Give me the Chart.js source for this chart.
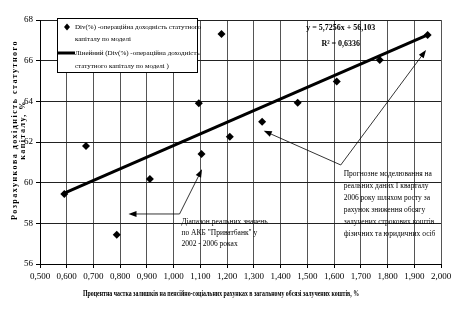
<!DOCTYPE html>
<html>
<head>
<meta charset="utf-8">
<script src="https://cdn.jsdelivr.net/npm/chart.js@4"></script>
<style>
  body { margin: 0; background: #fff; }
</style>
</head>
<body>
<canvas id="chart" width="460" height="325"></canvas>
<script>
/* ================= DATA ================= */

// share of pension/social accounts, %
const shareX = [0.591, 0.672, 0.787, 0.911, 1.094, 1.104, 1.179, 1.21, 1.331, 1.464, 1.61, 1.771, 1.95];
// modelled return on equity, %
const divY = [59.44, 61.80, 57.44, 60.18, 63.90, 61.41, 67.31, 62.26, 63.00, 63.93, 64.97, 66.03, 67.26];

// linear trend (Excel trendline ends)
const trendX = [0.591, 1.95];
const trendY = [59.49, 67.27];

const xTicks = [0.5, 2.0, 0.1];
const yTicks = [56, 68, 2];

const serif = "'Liberation Serif', 'Times New Roman', serif";

function fmt(v) {
    return v.toFixed(3).replace(".", ",");
}

/* ================= ANNOTATIONS ================= */

function arrow(ctx, x1, y1, x2, y2) {
    const a = Math.atan2(y2 - y1, x2 - x1);
    ctx.beginPath();
    ctx.moveTo(x1, y1);
    ctx.lineTo(x2 - 5 * Math.cos(a), y2 - 5 * Math.sin(a));
    ctx.stroke();
    ctx.beginPath();
    ctx.moveTo(x2, y2);
    ctx.lineTo(x2 - 8 * Math.cos(a) + 3 * Math.sin(a), y2 - 8 * Math.sin(a) - 3 * Math.cos(a));
    ctx.lineTo(x2 - 8 * Math.cos(a) - 3 * Math.sin(a), y2 - 8 * Math.sin(a) + 3 * Math.cos(a));
    ctx.closePath();
    ctx.fill();
}

const notes = {
    id: "notes",
    afterDatasetsDraw(chart) {
        const ctx = chart.ctx;
        const xs = chart.scales.x, ys = chart.scales.y;
        const px = v => xs.getPixelForValue(v);
        const py = v => ys.getPixelForValue(v);

        ctx.save();
        ctx.strokeStyle = "#000";
        ctx.fillStyle = "#000";
        ctx.lineWidth = 0.8;

        // range of real values
        arrow(ctx, px(1.022), py(58.46), px(0.831), py(58.46));
        arrow(ctx, px(1.022), py(58.46), px(1.106), py(60.66));

        // forecast
        arrow(ctx, px(1.625), py(60.87), px(1.337), py(62.55));
        arrow(ctx, px(1.625), py(60.87), px(1.944), py(66.52));

        ctx.font = "7.5px " + serif;
        ctx.textAlign = "left";
        ctx.textBaseline = "middle";
        const t1 = ["Діапазон реальних значень", "по АКБ \"Приватбанк\" у", "2002 - 2006 роках"];
        t1.forEach((s, i) => ctx.fillText(s, px(1.029), py(58.08) + i * 11));

        const t2 = ["Прогнозне моделювання на", "реальних даних I кварталу", "2006 року шляхом росту за",
                    "рахунок зниження обсягу", "залучених строкових коштів", "фізичних та юридичних осіб"];
        t2.forEach((s, i) => ctx.fillText(s, px(1.636), py(60.42) + i * 12));

        // trend equation
        ctx.font = "bold 8px " + serif;
        ctx.textAlign = "center";
        ctx.fillText("y = 5,7256x + 56,103", px(1.625), py(67.6));
        ctx.fillText("R² = 0,6336", px(1.625), py(66.8));
        ctx.restore();
    },
    afterDraw(chart) {
        const ctx = chart.ctx;
        ctx.save();

        // legend box
        ctx.fillStyle = "#fff";
        ctx.fillRect(57, 18, 140, 54);
        ctx.strokeStyle = "#000";
        ctx.lineWidth = 1;
        ctx.strokeRect(57.5, 18.5, 140, 54);

        ctx.fillStyle = "#000";
        ctx.beginPath();
        ctx.moveTo(67, 23.5); ctx.lineTo(70, 27); ctx.lineTo(67, 30.5); ctx.lineTo(64, 27);
        ctx.closePath();
        ctx.fill();
        ctx.lineWidth = 3;
        ctx.beginPath();
        ctx.moveTo(58, 53); ctx.lineTo(75, 53);
        ctx.stroke();

        ctx.font = "7px " + serif;
        ctx.textAlign = "left";
        ctx.textBaseline = "middle";
        ctx.fillText("Dіv(%) -операційна доходність статутного", 75, 27);
        ctx.fillText("капіталу по моделі", 75, 39);
        ctx.fillText("Лінейний (Dіv(%) -операційна доходність", 75, 53);
        ctx.fillText("статутного капіталу по моделі )", 75, 66);

        // x axis title, squeezed to the width in the picture
        ctx.font = "bold 8px " + serif;
        ctx.textAlign = "center";
        const xt = "Процентна частка залишків на пенсійно-соціальних рахунках в загальному обсязі залучених коштів, %";
        const xw = ctx.measureText(xt).width;
        ctx.save();
        ctx.translate(221, 294);
        ctx.scale(276 / xw, 1);
        ctx.fillText(xt, 0, 0);
        ctx.restore();

        // y axis title
        ctx.translate(15, 130);
        ctx.rotate(-Math.PI / 2);
        const l1 = "Розрахункова дохідність статутного";
        const w = ctx.measureText(l1).width;
        ctx.letterSpacing = ((180 - w) / l1.length).toFixed(2) + "px";
        ctx.fillText(l1, 0, 0);
        ctx.fillText("капіталу, %", 0, 8);
        ctx.restore();
    }
};

/* ================= CHART ================= */

new Chart(document.getElementById("chart"), {

    type: "scatter",

    data: {
        datasets: [
            {
                type: "line",
                data: trendX.map((x, i) => ({ x: x, y: trendY[i] })),
                borderColor: "#000",
                borderWidth: 3,
                pointRadius: 0,
                order: 2
            },
            {
                data: shareX.map((x, i) => ({ x: x, y: divY[i] })),
                pointStyle: "rectRot",
                pointRadius: 4,
                backgroundColor: "#000",
                borderColor: "#000",
                borderWidth: 0,
                order: 1
            }
        ]
    },

    plugins: [notes],

    options: {
        responsive: false,
        animation: false,
        layout: {
            padding: { top: 20, right: 19, left: 0, bottom: 0 }
        },

        plugins: {
            legend: { display: false },
            tooltip: { enabled: false }
        },

        scales: {
            x: {
                type: "linear",
                min: xTicks[0],
                max: xTicks[1],
                afterFit: s => { s.height = 61; },
                ticks: {
                    stepSize: xTicks[2],
                    autoSkip: false,
                    maxRotation: 0,
                    padding: 3,
                    color: "#000",
                    font: { family: serif, size: 9 },
                    callback: v => fmt(v)
                },
                grid: { color: "#555", tickLength: 4, tickColor: "#000" },
                border: { color: "#000" }
            },
            y: {
                min: yTicks[0],
                max: yTicks[1],
                afterFit: s => { s.width = 40; },
                ticks: {
                    stepSize: yTicks[2],
                    padding: 3,
                    color: "#000",
                    font: { family: serif, size: 9 }
                },
                grid: { color: "#222", tickLength: 4, tickColor: "#000" },
                border: { color: "#000" }
            }
        }
    }

});
</script>
</body>
</html>
